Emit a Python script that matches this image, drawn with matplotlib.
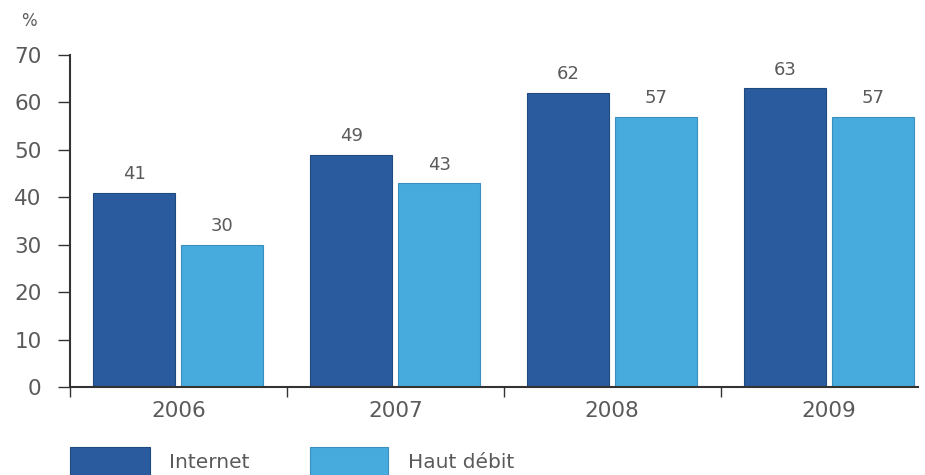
import matplotlib.pyplot as plt
import numpy as np

years = ['2006', '2007', '2008', '2009']
internet = [41, 49, 62, 63]
haut_debit = [30, 43, 57, 57]

dark = '#2a5b9e'
light = '#47abde'
grey = '#5a5a5a'

fig = plt.figure(figsize=(9.25, 4.75), dpi=100)
ax = fig.add_axes([70 / 925, 1 - 387 / 475, (918 - 70) / 925, (387 - 55) / 475])

x = np.arange(len(years))
w = 0.378
off = (w + 0.028) / 2
b1 = ax.bar(x - off, internet, w, color=dark, edgecolor='#1f4a80', linewidth=0.8)
b2 = ax.bar(x + off, haut_debit, w, color=light, edgecolor='#3a8fbf', linewidth=0.8)

for bars, vals in ((b1, internet), (b2, haut_debit)):
    for r, v in zip(bars, vals):
        ax.text(r.get_x() + r.get_width() / 2, v + 2.0, str(v), ha='center', va='bottom',
                fontsize=13, color=grey)

ax.set_xlim(-0.5, 3.41)
ax.set_ylim(0, 70)
ax.set_yticks(range(0, 71, 10))
ax.tick_params(axis='y', labelsize=15.5, labelcolor=grey, length=8.5, width=1, color='#333333', pad=12)
ax.set_xticks(x)
ax.set_xticklabels(years)
ax.tick_params(axis='x', labelsize=15.5, labelcolor=grey, length=0, pad=10)
# separators between groups
ax.set_xticks([-0.5, 0.5, 1.5, 2.5], minor=True)
ax.tick_params(axis='x', which='minor', length=7, width=1, color='#333333', direction='out')

for s in ['top', 'right']:
    ax.spines[s].set_visible(False)
ax.spines['left'].set_color('#333333')
ax.spines['bottom'].set_color('#333333')
ax.spines['left'].set_linewidth(1.5)
ax.spines['bottom'].set_linewidth(1.5)

fig.text(29 / 925, 1 - 21 / 475, '%', fontsize=12, color=grey, ha='center', va='center')

# legend boxes
fig.patches.append(plt.Rectangle((70 / 925, 0), 80 / 925, 28 / 475, transform=fig.transFigure,
                                  facecolor=dark, edgecolor='#1f4a80', linewidth=0.8))
fig.text(169 / 925, 1 - 463 / 475, 'Internet', fontsize=14.5, color=grey, va='center')
fig.patches.append(plt.Rectangle((310 / 925, 0), 78 / 925, 28 / 475, transform=fig.transFigure,
                                  facecolor=light, edgecolor='#3a8fbf', linewidth=0.8))
fig.text(408 / 925, 1 - 463 / 475, 'Haut débit', fontsize=14.5, color=grey, va='center')

plt.savefig('out.png', dpi=100)
